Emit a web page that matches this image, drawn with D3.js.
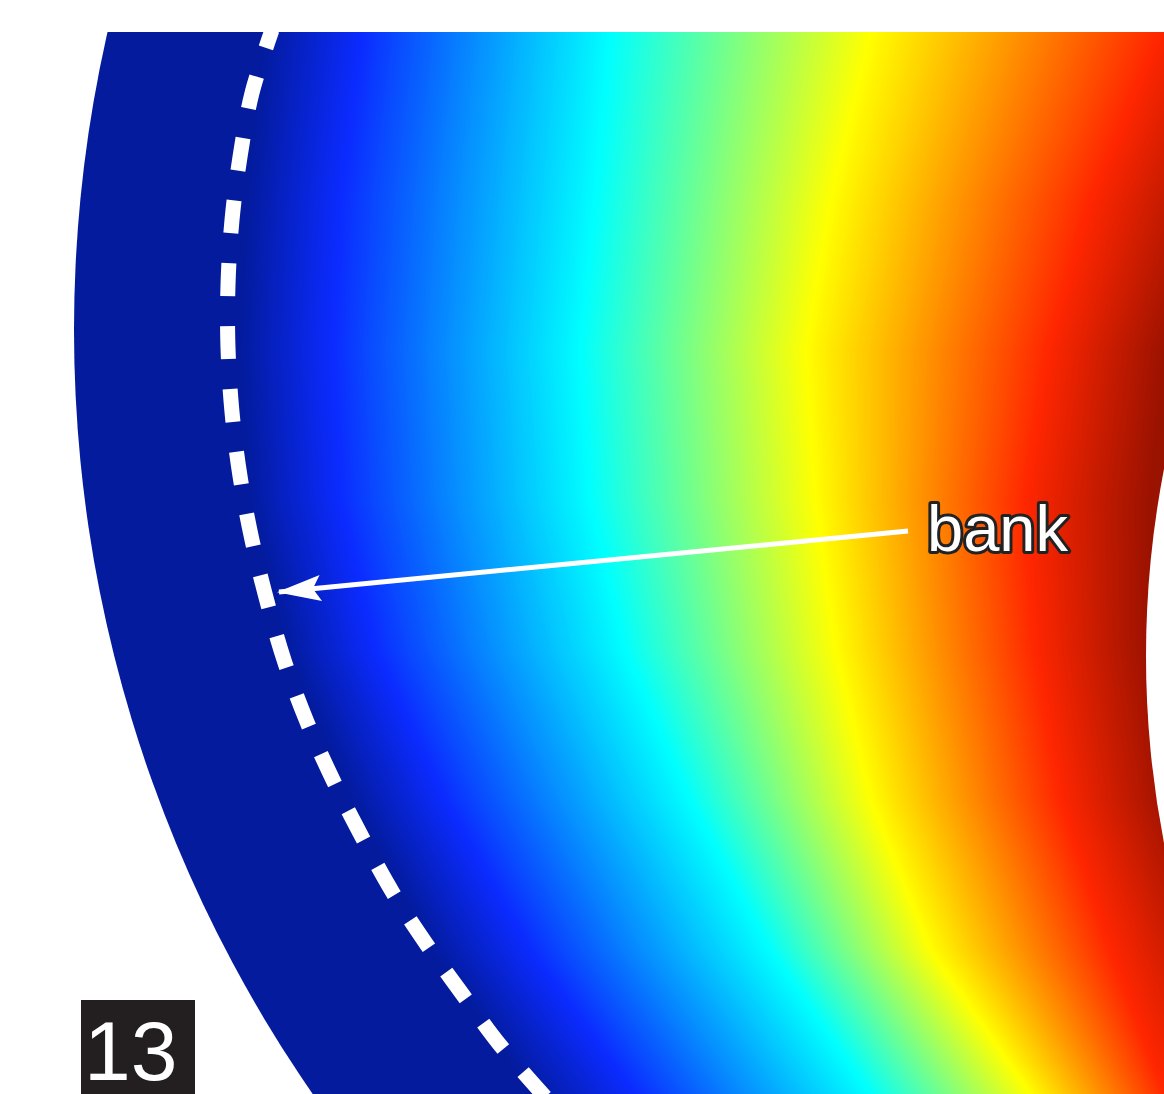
<!DOCTYPE html>
<html>
<head>
<meta charset="utf-8">
<script src="https://cdn.jsdelivr.net/npm/d3@7"></script>
<style>
 body { margin: 0; background: #fff; }
</style>
</head>
<body>
<div id="chart"></div>
<script>
var width = 1164;
var height = 1094;

var rowY = [32, 200, 350, 500, 650, 800, 950, 1094];
// x position of each colour stop on those rows
var stopDark   = [262, 245, 238, 248, 285, 350, 430, 530];
var stopBlue   = [362, 340, 332, 340, 375, 445, 530, 635];
var stopCyan   = [610, 595, 580, 590, 625, 690, 770, 870];
var stopYellow = [870, 830, 805, 815, 835, 870, 930, 1030];
var stopRed    = [1160, 1090, 1048, 1025, 1035, 1060, 1110, 1165];
var stopDeep   = [1290, 1220, 1165, 1150, 1150, 1170, 1230, 1290];
var stopColors = ["#031b9c", "#0b2bff", "#00ffff", "#ffff00", "#ff2600", "#9a1200"];

// bank line (dashed)
var bankX = [272, 252, 240, 232, 228, 228, 232, 240, 252, 268, 285, 307, 333, 362, 393, 427, 463, 500, 548];
var bankY = [30, 93, 157, 220, 285, 348, 412, 476, 540, 605, 663, 722, 780, 837, 893, 945, 995, 1045, 1100];

var label = "bank";
var panel = "13";

var svg = d3.select("#chart")
 .append("svg")
 .attr("width", width)
 .attr("height", height)
 .style("display", "block");

// colour field drawn on a canvas, row by row
var canvas = document.createElement("canvas");
canvas.width = width;
canvas.height = height;
var ctx = canvas.getContext("2d");
var img = ctx.createImageData(width, height);

var stops = [stopDark, stopBlue, stopCyan, stopYellow, stopRed, stopDeep];
var rowScales = stops.map(function (s) {
  return d3.scaleLinear().domain(rowY).range(s).clamp(true);
});
var color = d3.scaleLinear()
 .domain(d3.range(stopColors.length))
 .range(stopColors)
 .interpolate(d3.interpolateRgb);

// lookup table of colours
var lutN = 1000;
var lut = d3.range(lutN + 1).map(function (i) {
  return d3.rgb(color(i / lutN * (stopColors.length - 1)));
});

for (var y = 0; y < height; y++) {
  var xs = rowScales.map(function (f) { return f(y); });
  var level = d3.scaleLinear()
   .domain(xs)
   .range(d3.range(xs.length).map(function (i) { return i / (xs.length - 1); }))
   .clamp(true);
  for (var x = 0; x < width; x++) {
    var c = lut[Math.round(level(x) * lutN)];
    var k = (y * width + x) * 4;
    img.data[k] = c.r;
    img.data[k + 1] = c.g;
    img.data[k + 2] = c.b;
    img.data[k + 3] = 255;
  }
}
ctx.putImageData(img, 0, 0);

// channel shape: outer bank circle, inner bank circle, top cut
var defs = svg.append("defs");
var mask = defs.append("mask").attr("id", "channel");
mask.append("rect").attr("width", width).attr("height", height).style("fill", "black");
mask.append("circle").attr("cx", 1416).attr("cy", 330).attr("r", 1342).style("fill", "white");
mask.append("circle").attr("cx", 2126).attr("cy", 656).attr("r", 980).style("fill", "black");
mask.append("rect").attr("width", width).attr("height", 32).style("fill", "black");

svg.append("image")
 .attr("x", 0)
 .attr("y", 0)
 .attr("width", width)
 .attr("height", height)
 .attr("href", canvas.toDataURL())
 .attr("mask", "url(#channel)");

// dashed bank line
var bankLine = d3.line()
 .x(function (d) { return d[0]; })
 .y(function (d) { return d[1]; })
 .curve(d3.curveCatmullRom);

svg.append("path")
 .attr("d", bankLine(d3.zip(bankX, bankY)))
 .style("fill", "none")
 .style("stroke", "white")
 .style("stroke-width", 15)
 .style("stroke-dasharray", "33 30")
 .style("stroke-dashoffset", 14)
 .attr("mask", "url(#channel)");

// arrow head, tip at the end of the line
defs.append("marker")
 .attr("id", "head")
 .attr("viewBox", "0 0 46 30")
 .attr("refX", 44)
 .attr("refY", 15)
 .attr("markerWidth", 46)
 .attr("markerHeight", 30)
 .attr("markerUnits", "userSpaceOnUse")
 .attr("orient", "auto")
 .append("path")
 .attr("d", "M46,15 L2,2 L10,15 L2,28 Z")
 .style("fill", "white");

svg.append("line")
 .attr("x1", 908)
 .attr("y1", 531)
 .attr("x2", 279)
 .attr("y2", 592)
 .style("stroke", "white")
 .style("stroke-width", 5)
 .attr("marker-end", "url(#head)");

svg.append("text")
 .attr("x", 927)
 .attr("y", 551)
 .text(label)
 .style("font-family", "'Liberation Sans', Arial, sans-serif")
 .style("font-size", "65px")
 .style("fill", "white")
 .style("stroke", "#222")
 .style("stroke-width", 6)
 .style("paint-order", "stroke")
 .style("stroke-linejoin", "round");

// panel number
svg.append("rect")
 .attr("x", 81)
 .attr("y", 1000)
 .attr("width", 114)
 .attr("height", 94)
 .style("fill", "#231f20");

svg.append("text")
 .attr("x", 84)
 .attr("y", 1080)
 .text(panel)
 .style("font-family", "'Liberation Sans', Arial, sans-serif")
 .style("font-size", "84px")
 .style("fill", "white");
</script>
</body>
</html>
